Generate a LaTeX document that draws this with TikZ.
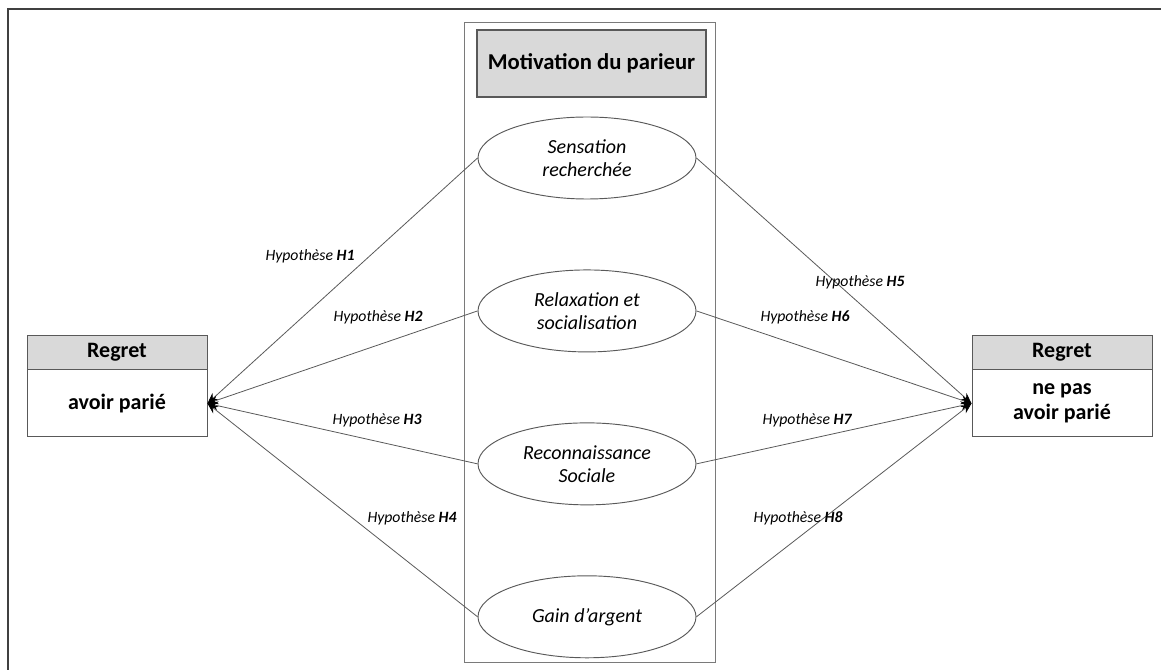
\documentclass[tikz,border=0pt]{standalone}
\usepackage{fontspec}
\setmainfont{Carlito}
\usetikzlibrary{arrows.meta,positioning,shapes.geometric}
\definecolor{mpgris}{HTML}{D9D9D9}
\definecolor{mptrait}{HTML}{595959}

\begin{document}
\begin{tikzpicture}[
  x=0.75pt, y=-0.75pt,
  node distance=52.5pt,
  titre/.style={draw=mptrait, line width=0.8pt, fill=mpgris, minimum width=171.75pt,
                minimum height=50.25pt, font=\fontsize{17}{19}\selectfont\bfseries},
  motif/.style={ellipse, draw=mptrait, line width=0.7pt, fill=white, align=center,
                minimum width=163.5pt, minimum height=61.5pt, inner sep=0pt,
                font=\fontsize{15}{17.5}\selectfont\itshape},
  entete/.style={draw=mptrait, line width=0.7pt, fill=mpgris, minimum width=135pt,
                 minimum height=25.5pt, inner sep=0pt, font=\fontsize{16.5}{18}\selectfont\bfseries},
  corps/.style={draw=mptrait, line width=0.7pt, fill=white, minimum width=135pt,
                minimum height=50.25pt, inner sep=0pt, align=center,
                font=\fontsize{16.5}{19}\selectfont\bfseries},
  fleche/.style={-{Stealth[length=8pt,width=6.5pt,color=black]}, mptrait, line width=0.6pt},
  hyp/.style={font=\fontsize{11.8}{14}\selectfont\itshape, inner sep=1pt},
]
  \useasboundingbox (0,0) rectangle (1161,670);

  %% cadre
  \draw[black!75, line width=1pt] (1161,9) -- (8,9) -- (8,670);

  %% bloc central
  \node[draw=mptrait!80, line width=0.6pt, minimum width=188.25pt, minimum height=480pt]
    (bloc) at (589.5,342) {};
  \node[titre] (motiv) at (591.5,63.5) {Motivation du parieur};

  \node[motif] (sens) at (587,158) {Sensation\\recherchée};
  \node[motif, below=of sens]  (relax) {Relaxation et\\socialisation};
  \node[motif, below=of relax] (recon) {Reconnaissance\\Sociale};
  \node[motif, below=of recon] (gain)  {Gain d’argent};

  %% regrets
  \node[entete] (regA) at (117,352) {Regret};
  \node[corps, below=0pt of regA] (avoir) {avoir parié};
  \node[entete] (regB) at (1062,352) {Regret};
  \node[corps, below=0pt of regB] (nepas) {ne pas\\avoir parié};

  %% fleches
  \foreach \m in {sens,relax,recon,gain}{
    \draw[fleche] (\m.west) -- (avoir.east);
    \draw[fleche] (\m.east) -- (nepas.west);
  }

  %% hypotheses
  \node[hyp] (h1) at (310,256) {Hypothèse \textbf{H1}};
  \node[hyp] (h2) at (378,317) {Hypothèse \textbf{H2}};
  \node[hyp] (h3) at (377,420) {Hypothèse \textbf{H3}};
  \node[hyp] (h4) at (412,518) {Hypothèse \textbf{H4}};
  \node[hyp] (h5) at (860,282) {Hypothèse \textbf{H5}};
  \node[hyp] (h6) at (805,317) {Hypothèse \textbf{H6}};
  \node[hyp] (h7) at (807,420) {Hypothèse \textbf{H7}};
  \node[hyp] (h8) at (798,518) {Hypothèse \textbf{H8}};
\end{tikzpicture}
\end{document}
